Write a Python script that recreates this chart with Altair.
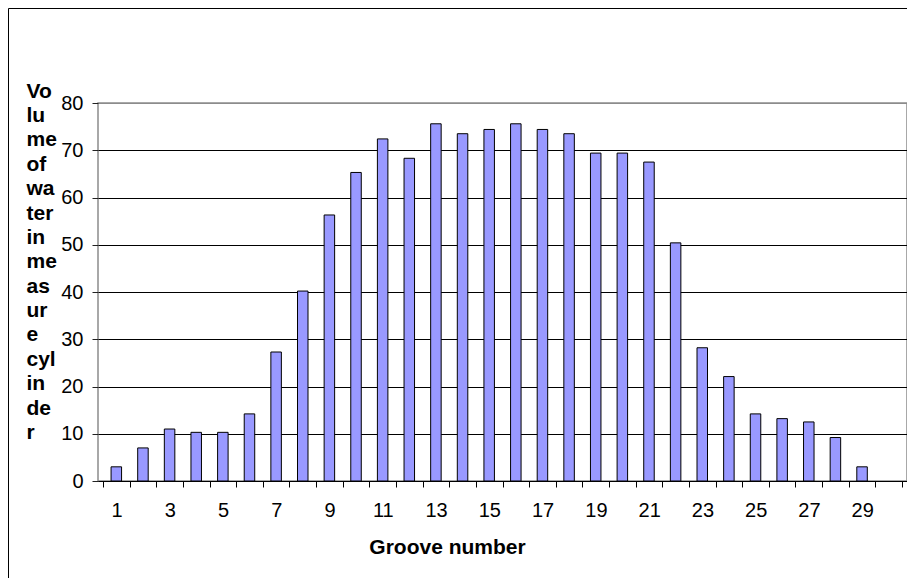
import altair as alt
import pandas as pd

# ---- data ----
grooves = list(range(1, 30))
volumes = [3, 7, 11, 10.3, 10.3, 14.2, 27.3, 40.2, 56.3, 65.3,
           72.4, 68.3, 75.6, 73.5, 74.4, 75.6, 74.4, 73.5, 69.4, 69.4,
           67.5, 50.4, 28.2, 22.1, 14.2, 13.2, 12.5, 9.2, 3]
x_axis_labels = list(range(1, 30, 2))
y_ticks = [0, 10, 20, 30, 40, 50, 60, 70, 80]
y_title_lines = ["Vo", "lu", "me", "of", "wa", "ter", "in", "me", "as",
                 "ur", "e", "cyl", "in", "de", "r"]
x_title = "Groove number"

n_slots = 30
df = pd.DataFrame({"groove": grooves, "volume": volumes})
tick_positions = [i + 0.5 for i in range(0, n_slots + 1)]

FONT = "Liberation Sans"
W, H = 809, 378
half_band = W / n_slots / 2

label_list = ",".join(str(v) for v in x_axis_labels)
label_expr = (f"indexof([{label_list}], datum.value + 0.5) >= 0 ? "
              "format(datum.value + 0.5, 'd') : ''")

bars = alt.Chart(df).mark_bar(
    size=10.5, fill="#9999FF", stroke="black", strokeWidth=1, orient="vertical"
).encode(
    x=alt.X("groove:Q",
            scale=alt.Scale(domain=[0.5, n_slots + 0.5], nice=False, zero=False),
            axis=alt.Axis(values=tick_positions, labelExpr=label_expr,
                          labelOffset=half_band, labelOverlap=False,
                          labelFlush=False, labelFontSize=20, labelFont=FONT,
                          labelColor="black", labelBaseline="alphabetic",
                          labelPadding=29.5, tickSize=6, tickColor="black",
                          domainColor="black", grid=False,
                          title=x_title, titleX=349, titleY=72.5,
                          titleAlign="center", titleBaseline="alphabetic",
                          titleFontSize=21, titleFontWeight="bold",
                          titleFont=FONT, titleColor="black")),
    y=alt.Y("volume:Q",
            scale=alt.Scale(domain=[0, 80], nice=False),
            axis=alt.Axis(values=y_ticks, grid=True,
                          gridColor=alt.condition("datum.value == 80",
                                                  alt.value("#8c8c8c"),
                                                  alt.value("black")),
                          gridWidth=1, domain=False, tickColor="#222222",
                          tickSize=6, labelPadding=9, labelFontSize=20,
                          labelFont=FONT, labelColor="black",
                          title=y_title_lines, titleAngle=0, titleAlign="left",
                          titleBaseline="alphabetic", titleX=-72, titleY=-6,
                          titleFontSize=21, titleFontWeight="bold",
                          titleFont=FONT, titleLineHeight=24.4,
                          titleColor="black")),
)

one = pd.DataFrame({"a": [0]})
frame_top = alt.Chart(one).mark_rule(color="black", strokeWidth=1).encode(
    x=alt.value(-89.5), x2=alt.value(W + 30), y=alt.value(-94.5),
)
frame_left = alt.Chart(one).mark_rule(color="black", strokeWidth=1).encode(
    x=alt.value(-89.5), y=alt.value(-94.5), y2=alt.value(H + 120),
)

chart = alt.layer(frame_top, frame_left, bars).properties(
    width=W, height=H,
    autosize=alt.AutoSizeParams(type="none"),
    padding={"left": 90, "top": 95, "right": 0, "bottom": 100},
    background="white",
).configure_view(stroke="#8c8c8c", strokeWidth=1.5)

chart.save("out.html", embed_options={"renderer": "svg", "actions": False})
